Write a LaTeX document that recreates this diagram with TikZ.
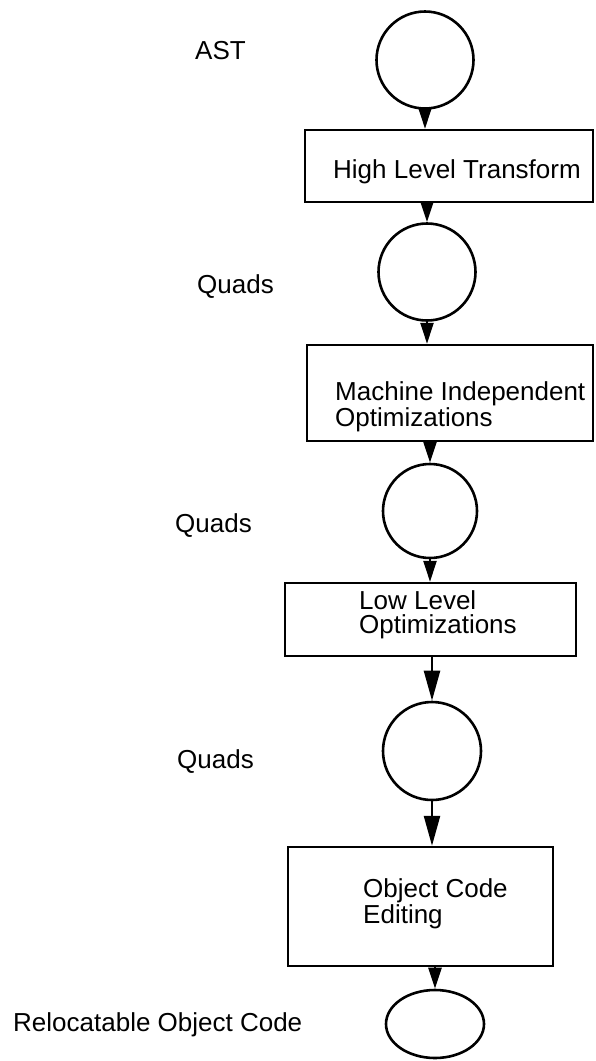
\documentclass[tikz,border=0pt]{standalone}
\usepackage{fontspec}
\setmainfont{Liberation Sans}
\usetikzlibrary{arrows.meta,shapes.geometric}
\begin{document}
\begin{tikzpicture}[x=1pt,y=-1pt,
  state/.style={draw,circle,line width=2.6pt,inner sep=0pt},
  final/.style={draw,ellipse,line width=2.6pt,inner sep=0pt},
  stage/.style={draw,rectangle,line width=2.4pt,inner sep=0pt},
  lbl/.style={anchor=base west,inner sep=0pt,font=\fontsize{26}{24}\selectfont,align=left},
  flow/.style={line width=2.4pt,-{Triangle[length=21pt,width=13pt]}},
  flowlong/.style={line width=2.4pt,-{Triangle[length=30pt,width=16pt]}}]
\useasboundingbox (0,0) rectangle (595,1061);

% states
\node[state,minimum size=97pt] (c1) at (425,60) {};
\node[state,minimum size=97pt] (c2) at (427,272) {};
\node[state,minimum size=94pt] (c3) at (430,511) {};
\node[state,minimum size=98pt] (c4) at (432,751) {};
\node[final,minimum width=98pt,minimum height=68pt] (c5) at (435,1024) {};

% stages
\node[stage,minimum width=288pt,minimum height=72pt] (b1) at (449,166) {};
\node[stage,minimum width=286pt,minimum height=96pt] (b2) at (450,393) {};
\node[stage,minimum width=291pt,minimum height=73pt] (b3) at (430.5,619.5) {};
\node[stage,minimum width=265pt,minimum height=119pt] (b4) at (420.5,906.5) {};

% stage texts (base anchor = baseline of last line)
\node[lbl] (t1) at (333,178) {High Level Transform};
\node[lbl] (t2) at (335,426) {Machine Independent\\Optimizations};
\node[lbl] (t3) at (359,633) {Low Level\\Optimizations};
\node[lbl] (t4) at (363,923) {Object Code\\Editing};

% side labels
\node[lbl] (l1) at (195,59) {AST};
\node[lbl] (l2) at (197,293) {Quads};
\node[lbl] (l3) at (175,532) {Quads};
\node[lbl] (l4) at (177,768) {Quads};
\node[lbl] (l5) at (13,1031) {Relocatable Object Code};

% connectors
\draw[flow] (c1.south) -- (c1.south |- b1.north);
\draw[flow] (b1.south -| c2.north) -- (c2.north);
\draw[flow] (c2.south) -- (c2.south |- b2.north);
\draw[flow] (b2.south -| c3.north) -- (c3.north);
\draw[flow] (c3.south) -- (c3.south |- b3.north);
\draw[flowlong] (b3.south -| c4.north) -- (c4.north);
\draw[flowlong] (c4.south) -- (c4.south |- b4.north);
\draw[flow] (b4.south -| c5.north) -- (c5.north);
\end{tikzpicture}
\end{document}
